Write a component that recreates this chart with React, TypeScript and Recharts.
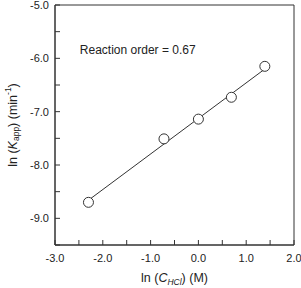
import { ScatterChart, Scatter, XAxis, YAxis, ReferenceDot, ReferenceArea } from "recharts";

const lnC = [-2.3, -0.72, 0, 0.69, 1.39];
const lnK = [-8.7, -7.51, -7.14, -6.73, -6.15];
const fitX = [-2.3, 1.39];
const fitY = [-8.66, -6.2];
const xTicks = [-3, -2.5, -2, -1.5, -1, -0.5, 0, 0.5, 1, 1.5, 2];
const yTicks = [-9.5, -9, -8.5, -8, -7.5, -7, -6.5, -6, -5.5, -5];
const noteText = "Reaction order = 0.67";

const font = "'Liberation Sans', Arial, sans-serif";
const ink = "#333";

const fmt = (v: number) => (Math.abs(v * 2) % 2 === 1 ? "" : v.toFixed(1));

// ticks point inward, labels only on whole numbers
const BottomTick = (props: any) => {
  const { x, y, payload } = props;
  return (
    <g>
      <line x1={x} x2={x} y1={y} y2={y - 5} stroke={ink} strokeWidth={1} />
      <text x={x} y={y + 17} textAnchor="middle" fontSize={11} fill="#222" fontFamily={font}>
        {fmt(payload.value)}
      </text>
    </g>
  );
};

const LeftTick = (props: any) => {
  const { x, y, payload } = props;
  return (
    <g>
      <line x1={x} x2={x + 5} y1={y} y2={y} stroke={ink} strokeWidth={1} />
      <text x={x - 6} y={y + 4} textAnchor="end" fontSize={11} fill="#222" fontFamily={font}>
        {fmt(payload.value)}
      </text>
    </g>
  );
};

const XTitle = (props: any) => {
  const { x, y, width, height } = props.viewBox;
  return (
    <text x={x + width / 2} y={y + height - 6} textAnchor="middle" fontSize={12.5} fill="#222" fontFamily={font}>
      ln (<tspan fontStyle="italic">C</tspan>
      <tspan fontStyle="italic" fontSize={8.5} dy={3}>HCl</tspan>
      <tspan dy={-3}>) (M)</tspan>
    </text>
  );
};

const YTitle = (props: any) => {
  const { x, y, height } = props.viewBox;
  const cx = x + 13;
  const cy = y + height / 2;
  return (
    <text x={cx} y={cy} transform={`rotate(-90 ${cx} ${cy})`} textAnchor="middle" dominantBaseline="central" fontSize={12.5} fill="#222" fontFamily={font}>
      ln (<tspan fontStyle="italic">K</tspan>
      <tspan fontSize={8.5} dy={3}>app</tspan>
      <tspan dy={-3}>) (min</tspan>
      <tspan fontSize={8.5} dy={-5}>-1</tspan>
      <tspan dy={5}>)</tspan>
    </text>
  );
};

const Circle = (props: any) => (
  <circle cx={props.cx} cy={props.cy} r={5} fill="#fff" stroke={ink} strokeWidth={1} />
);

export default function App() {
  const points = lnC.map((x, i) => ({ x, y: lnK[i] }));
  const fit = fitX.map((x, i) => ({ x, y: fitY[i] }));
  return (
    <div style={{ position: "fixed", left: 0, top: 0, width: 301, height: 288, background: "#fff" }}>
      <ScatterChart width={301} height={288} margin={{ top: 5, right: 7, bottom: 0, left: 0 }}>
        <XAxis
          type="number"
          dataKey="x"
          domain={[-3, 2]}
          ticks={xTicks}
          interval={0}
          height={43}
          tickSize={0}
          tickMargin={0}
          stroke={ink}
          tick={BottomTick}
          label={{ content: XTitle }}
        />
        <YAxis
          type="number"
          dataKey="y"
          domain={[-9.5, -5]}
          ticks={yTicks}
          interval={0}
          width={55}
          tickSize={0}
          tickMargin={0}
          stroke={ink}
          tick={LeftTick}
          label={{ content: YTitle }}
        />
        <ReferenceArea x1={-3} x2={2} y1={-9.5} y2={-5} fill="none" stroke={ink} strokeWidth={1} />
        <Scatter data={fit} line={{ stroke: ink, strokeWidth: 1 }} shape={() => <g />} isAnimationActive={false} />
        <Scatter data={points} shape={Circle} isAnimationActive={false} />
        <ReferenceDot
          x={-2.48}
          y={-5.84}
          r={0}
          stroke="none"
          label={{ value: noteText, position: "right", offset: 0, fontSize: 12, fill: "#222", fontFamily: font }}
        />
      </ScatterChart>
    </div>
  );
}
